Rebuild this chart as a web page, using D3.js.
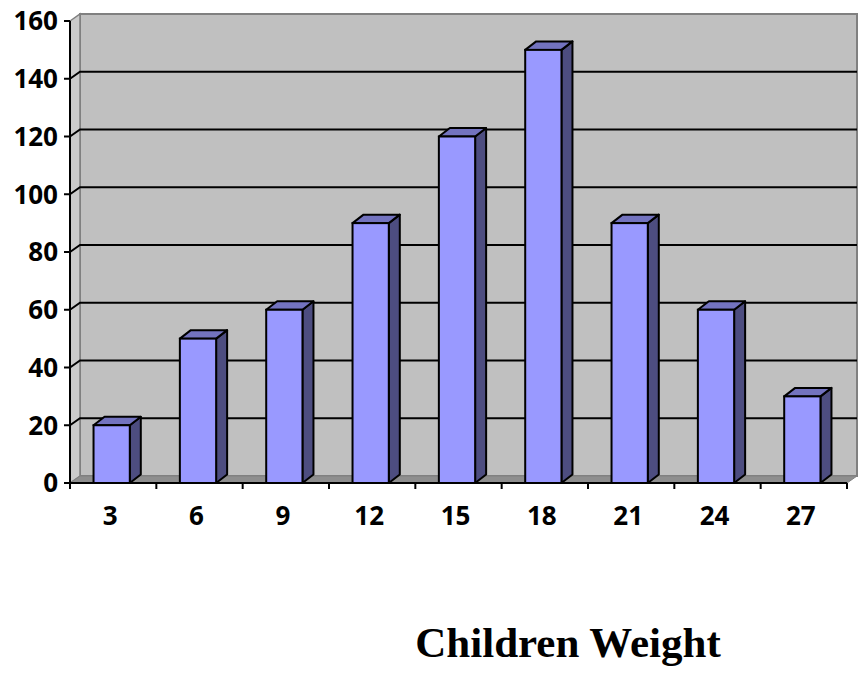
<!DOCTYPE html>
<html lang="en">

<head>
    <script src='https://d3js.org/d3.v7.min.js'></script>
    <style>
        body { margin: 0; background: #fff; }
    </style>
</head>

<body>

    <script>

        var categories = ["3", "6", "9", "12", "15", "18", "21", "24", "27"];
        var values = [20, 50, 60, 90, 120, 150, 90, 60, 30];
        var yTicks = [0, 20, 40, 60, 80, 100, 120, 140, 160];
        var title = "Children Weight";

        var width = 858,
            height = 673;

        // front plane of the plot and the depth of the 3d walls
        var plotLeft = 70, plotRight = 847, plotTop = 21, plotBottom = 483;
        var depthX = 10, depthY = 7;
        var barDX = 11, barDY = 8.5;

        var svg = d3.select("body").append("svg")
            .attr("width", width)
            .attr("height", height);

        var y = d3.scaleLinear().domain([0, 160]).range([plotBottom, plotTop]);

        var xCat = d3.scaleBand().domain(categories).range([plotLeft, plotRight]);

        var xBar = d3.scaleBand().domain(categories).range([plotLeft, plotRight])
            .paddingInner(0.58)
            .paddingOuter(0.29);

        // back wall
        svg.append("rect")
            .attr("x", plotLeft + depthX)
            .attr("y", plotTop - depthY)
            .attr("width", plotRight - plotLeft)
            .attr("height", plotBottom - plotTop)
            .attr("fill", "#c0c0c0")
            .attr("stroke", "#808080")
            .attr("stroke-width", 2);

        // side wall
        svg.append("polygon")
            .attr("points", [[plotLeft, y(160)], [plotLeft + depthX, y(160) - depthY],
                [plotLeft + depthX, plotBottom - depthY], [plotLeft, plotBottom]].join(" "))
            .attr("fill", "#cbcbcb")
            .attr("stroke", "#808080")
            .attr("stroke-width", 1.5);

        // floor
        svg.append("polygon")
            .attr("points", [[plotLeft, plotBottom], [plotLeft + depthX, plotBottom - depthY],
                [plotRight + depthX, plotBottom - depthY], [plotRight, plotBottom]].join(" "))
            .attr("fill", "#8e8e8e")
            .attr("stroke", "#808080")
            .attr("stroke-width", 1);

        // gridlines
        svg.selectAll("path.grid")
            .data(yTicks.filter(function (d) { return d > 0 && d < 160; }))
            .enter().append("path")
            .attr("class", "grid")
            .attr("d", function (d) {
                return "M" + plotLeft + "," + y(d) +
                    "L" + (plotLeft + depthX) + "," + (y(d) - depthY) +
                    "L" + (plotRight + depthX) + "," + (y(d) - depthY);
            })
            .attr("fill", "none")
            .attr("stroke", "#000")
            .attr("stroke-width", 2);

        // bars
        var bars = svg.selectAll("g.bar")
            .data(values)
            .enter().append("g")
            .attr("class", "bar");

        function bx(i) { return xBar(categories[i]) - 1.5; }
        var bw = xBar.bandwidth();

        bars.append("polygon")
            .attr("points", function (d, i) {
                var x0 = bx(i) + bw;
                return [[x0, y(d)], [x0 + barDX, y(d) - barDY],
                    [x0 + barDX, plotBottom - barDY], [x0, plotBottom]].join(" ");
            })
            .attr("fill", "#4d4d80")
            .attr("stroke", "#000")
            .attr("stroke-width", 2)
            .attr("stroke-linejoin", "round");

        bars.append("polygon")
            .attr("points", function (d, i) {
                var x0 = bx(i);
                return [[x0, y(d)], [x0 + barDX, y(d) - barDY],
                    [x0 + bw + barDX, y(d) - barDY], [x0 + bw, y(d)]].join(" ");
            })
            .attr("fill", "#7373bf")
            .attr("stroke", "#000")
            .attr("stroke-width", 2)
            .attr("stroke-linejoin", "round");

        bars.append("rect")
            .attr("x", function (d, i) { return bx(i); })
            .attr("y", function (d) { return y(d); })
            .attr("width", bw)
            .attr("height", function (d) { return plotBottom - y(d); })
            .attr("fill", "#9999ff")
            .attr("stroke", "#000")
            .attr("stroke-width", 2);

        // axes
        var axisG = svg.append("g")
            .attr("stroke", "#000")
            .attr("stroke-width", 2);

        axisG.append("line")
            .attr("x1", plotLeft).attr("x2", plotLeft)
            .attr("y1", plotTop).attr("y2", plotBottom + 6);

        axisG.append("line")
            .attr("x1", plotLeft).attr("x2", plotRight)
            .attr("y1", plotBottom).attr("y2", plotBottom);

        axisG.selectAll("line.ytick")
            .data(yTicks)
            .enter().append("line")
            .attr("class", "ytick")
            .attr("x1", plotLeft - 6).attr("x2", plotLeft)
            .attr("y1", function (d) { return y(d); })
            .attr("y2", function (d) { return y(d); });

        var boundaries = categories.map(function (c) { return xCat(c); }).concat([plotRight]);
        axisG.selectAll("line.xtick")
            .data(boundaries)
            .enter().append("line")
            .attr("class", "xtick")
            .attr("x1", function (d) { return d; })
            .attr("x2", function (d) { return d; })
            .attr("y1", plotBottom)
            .attr("y2", plotBottom + 6);

        // labels
        svg.selectAll("text.ylab")
            .data(yTicks)
            .enter().append("text")
            .attr("class", "ylab")
            .attr("x", plotLeft - 12)
            .attr("y", function (d) { return y(d); })
            .attr("dy", "0.36em")
            .attr("text-anchor", "end")
            .style("font-family", "'Open Sans', Lato, sans-serif")
            .style("font-weight", "bold")
            .style("font-size", "26px")
            .text(function (d) { return d; });

        svg.selectAll("text.xlab")
            .data(categories)
            .enter().append("text")
            .attr("class", "xlab")
            .attr("x", function (d) { return xCat(d) + xCat.bandwidth() / 2 - 3; })
            .attr("y", 525)
            .attr("text-anchor", "middle")
            .style("font-family", "'Open Sans', Lato, sans-serif")
            .style("font-weight", "bold")
            .style("font-size", "26px")
            .text(function (d) { return d; });

        svg.append("text")
            .attr("x", 568)
            .attr("y", 657)
            .attr("text-anchor", "middle")
            .style("font-family", "'Liberation Serif', 'Times New Roman', serif")
            .style("font-weight", "bold")
            .style("font-size", "43px")
            .text(title);

    </script>

</body>

</html>
